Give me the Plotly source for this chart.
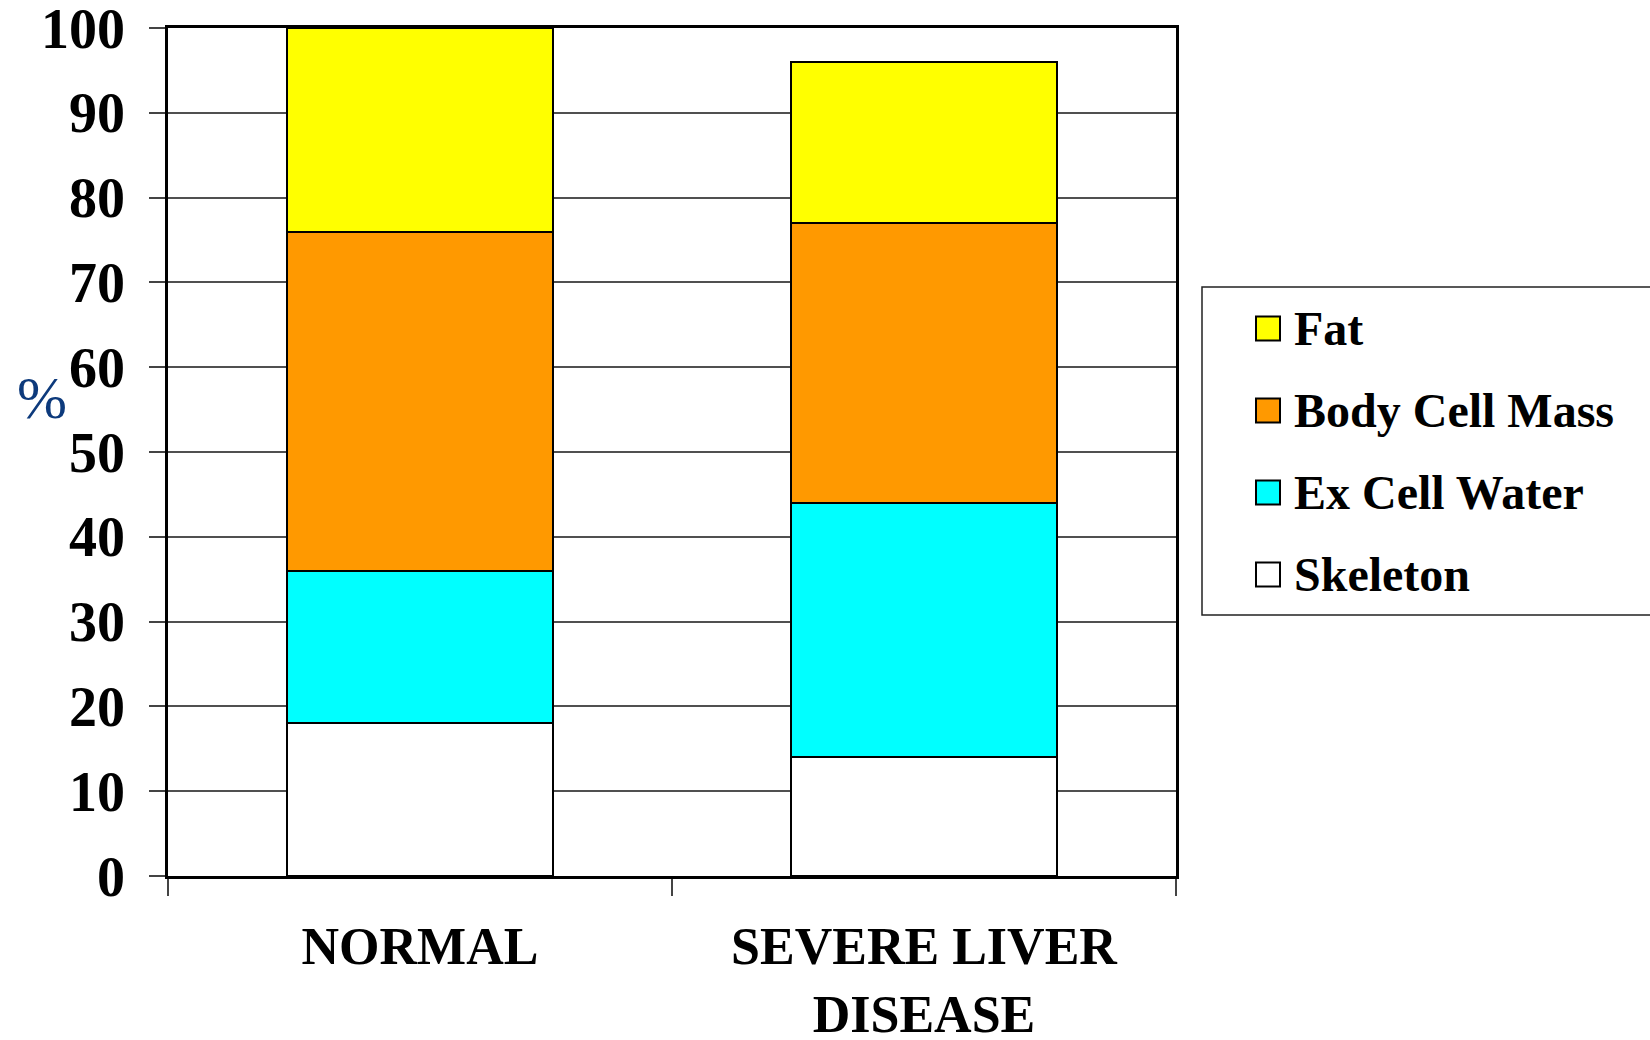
import plotly.graph_objects as go

# Body composition as a percentage of body weight
categories = ["NORMAL", "SEVERE LIVER<br>DISEASE"]
skeleton = [18, 14]
ex_cell_water = [18, 30]
body_cell_mass = [40, 33]
fat = [24, 19]

series_names = ["Skeleton", "Ex Cell Water", "Body Cell Mass", "Fat"]
series_values = [skeleton, ex_cell_water, body_cell_mass, fat]
series_colors = ["#FFFFFF", "#00FFFF", "#FF9900", "#FFFF00"]

y_ticks = list(range(0, 101, 10))

FIG_W, FIG_H = 1650, 1040
L, R, T, B = 168, 1176, 28, 876
SERIF = "Liberation Serif, Times New Roman, serif"

fig = go.Figure()
for name, vals, col in zip(series_names, series_values, series_colors):
    fig.add_trace(go.Bar(
        x=categories, y=vals, name=name,
        marker=dict(color=col, line=dict(color="#000000", width=2)),
        width=0.526, showlegend=False,
    ))

fig.update_layout(
    width=FIG_W, height=FIG_H,
    margin=dict(l=L, r=FIG_W - R, t=T, b=FIG_H - B, pad=0, autoexpand=False),
    barmode="stack",
    plot_bgcolor="#FFFFFF", paper_bgcolor="#FFFFFF",
    font=dict(family=SERIF, color="#000000"),
    xaxis=dict(
        type="category", range=[-0.5, 1.5], automargin=False,
        showline=True, linecolor="#000000", linewidth=3, mirror=True,
        ticks="outside", tickson="boundaries", ticklen=17, tickwidth=1.5,
        tickcolor="#444444", showgrid=False,
        tickfont=dict(family=SERIF, size=52, weight="bold", color="#000000"),
        ticklabelstandoff=23,
    ),
    yaxis=dict(
        range=[0, 100], tickvals=y_ticks, automargin=False,
        showline=True, linecolor="#000000", linewidth=2.5, mirror=True,
        ticks="outside", ticklen=16, tickwidth=1.5, tickcolor="#444444",
        showgrid=True, gridcolor="#505050", gridwidth=1.5, zeroline=False,
        tickfont=dict(family=SERIF, size=56, weight="bold", color="#000000"),
        ticklabelstandoff=13, ticklabeloverflow="allow",
    ),
)

# Axis unit label
fig.add_annotation(
    xref="paper", yref="paper",
    x=(42 - L) / (R - L), y=(B - 398) / (B - T),
    text="%", showarrow=False, xanchor="center", yanchor="middle",
    font=dict(family=SERIF, size=60, color="#0D3A7C"),
)

# Legend box (extends past the right edge of the page)
def px_x(px):
    return (px - L) / (R - L)

def px_y(py):
    return (B - py) / (B - T)

fig.add_shape(
    type="rect", xref="paper", yref="paper",
    x0=px_x(1202), x1=px_x(1700), y0=px_y(615), y1=px_y(287),
    line=dict(color="#222222", width=1.5), fillcolor="#FFFFFF", layer="above",
)

legend_rows = [328.5, 410.5, 492.5, 574.5]
for name, col, cy in zip(series_names[::-1], series_colors[::-1], legend_rows):
    fig.add_shape(
        type="rect", xref="paper", yref="paper",
        x0=px_x(1256), x1=px_x(1280), y0=px_y(cy + 12), y1=px_y(cy - 12),
        line=dict(color="#000000", width=2), fillcolor=col, layer="above",
    )
    fig.add_annotation(
        xref="paper", yref="paper", x=px_x(1292), y=px_y(cy),
        text=name, showarrow=False, xanchor="left", yanchor="middle",
        font=dict(family=SERIF, size=48, weight="bold", color="#000000"),
    )

fig.write_html("out.html")
